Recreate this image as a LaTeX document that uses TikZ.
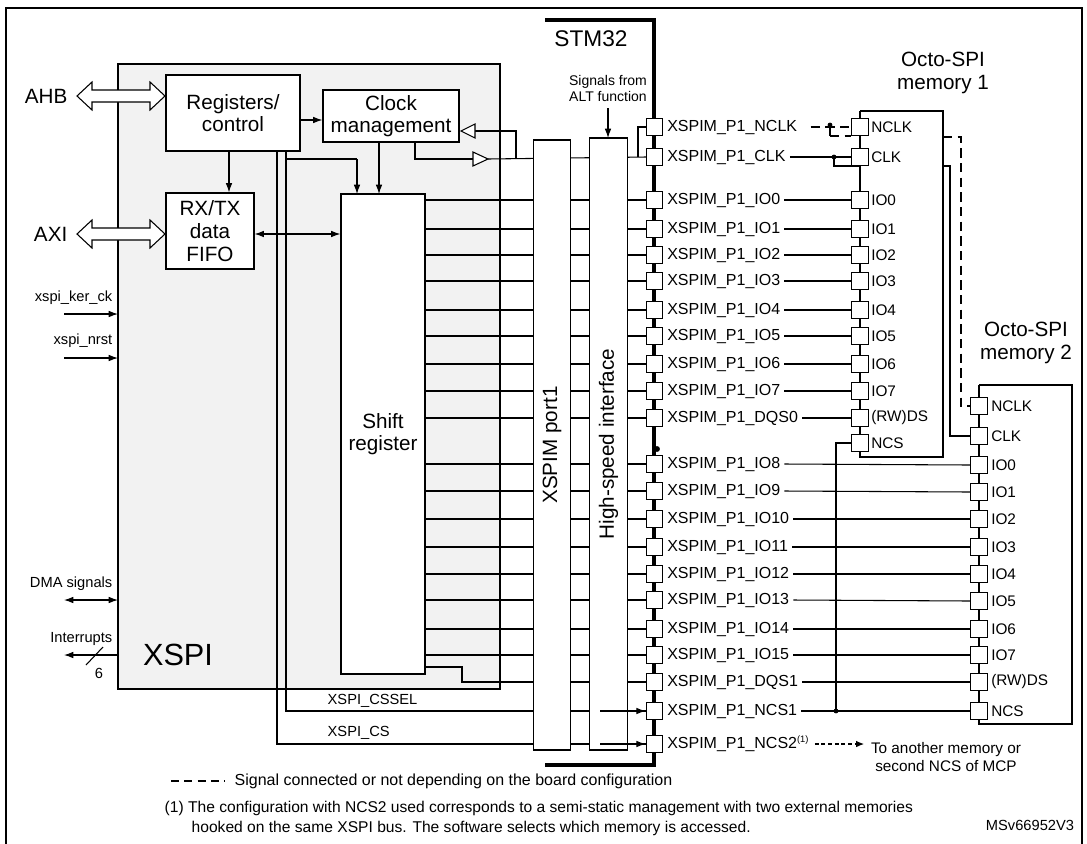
\documentclass[tikz,border=0pt]{standalone}
\usepackage{fontspec}
\setmainfont{Liberation Sans}
\usetikzlibrary{arrows.meta}
\begin{document}
\begin{tikzpicture}[x=0.75pt,y=-0.75pt,
  ln/.style={line width=0.8pt},
  box/.style={draw,line width=0.9pt,fill=white,inner sep=0pt},
  pin/.style={draw,line width=0.8pt,fill=white,minimum size=12.5pt,inner sep=0pt},
  plab/.style={anchor=west,inner sep=0pt,font=\fontsize{12}{12}\selectfont},
  mlab/.style={anchor=west,inner sep=0pt,font=\fontsize{11.5}{12}\selectfont},
  big/.style={font=\fontsize{15.5}{17}\selectfont,align=center},
  sm/.style={font=\fontsize{11}{12}\selectfont},
  arr/.style={ln,-{Latex[length=7pt,width=5pt]}},
  darr/.style={ln,{Latex[length=7pt,width=5pt]}-{Latex[length=7pt,width=5pt]}}]
\useasboundingbox (0,0) rectangle (1087,843);
\draw[line width=1pt] (6,850) -- (6,8) -- (1082,8) -- (1082,850);
% XSPI gray box
\draw[ln,fill=black!5] (118,64) rectangle (500,689);
\node[font=\fontsize{23}{24}\selectfont] (xspi) at (178,655) {XSPI};
% lines from registers
\coordinate (v1) at (277,151); \coordinate (v2) at (286,151);
\draw[ln] (v1) -- (277,744) -- (646,744);
\draw[ln] (v2) -- (286,711) -- (646,711);
\draw[ln] (286,159) -- (357,159);
\draw[arr] (357,159) -- (357,194);
\node[font=\fontsize{11}{12}\selectfont,anchor=west] (cssel) at (323,701) {XSPI\_CSSEL};
\node[font=\fontsize{11}{12}\selectfont,anchor=west] (cs) at (323,733) {XSPI\_CS};
% rows
\def\rowsA{200,229,255,281,310,336,364,391,418,464,491,519,547,574,600,629,655}
\foreach \y in \rowsA {\draw[ln] (425,\y) -- (646,\y);}
\draw[ln] (425,667) -- (462,667) -- (462,682) -- (646,682);
\draw[ln] (415,142) -- (415,159) -- (473,159);
\draw[ln] (488,159) -- (646,157);
\draw[ln] (638,157) -- (638,127) -- (646,127);
\draw[ln] (516,159) -- (516,131) -- (475,131);
% buffers
\draw[ln,fill=white] (461,131) -- (475,124) -- (475,138) -- cycle;
\draw[ln,fill=white] (488,159) -- (473,152) -- (473,166) -- cycle;
% boxes
\node[box,minimum width=100.5pt,minimum height=57pt,big] (reg) at (233,113) {Registers/\\control};
\node[box,minimum width=102pt,minimum height=39pt,big] (clk) at (391,116) {Clock\\management};
\node[box,minimum width=66pt,minimum height=57pt,big] (fifo) at (210,231) {RX/TX\\data\\FIFO};
\node[box,minimum width=63pt,minimum height=360pt,big] (shift) at (383,434) {Shift\\register};
\node[box,minimum width=28pt,minimum height=457.5pt] (port) at (552,445) {};
\node[rotate=90,big] at (port) {XSPIM port1};
\node[box,minimum width=28pt,minimum height=459pt] (hs) at (608.5,444) {};
\node[rotate=90,big] at (hs) {High-speed interface};
\draw[arr] (reg.east |- 0,120) -- (clk.west |- 0,120);
\draw[arr] (229,151) -- (fifo.north -| 229,0);
\draw[arr] (379,142) -- (379,194);
\draw[darr] (fifo.east |- 0,234) -- (shift.west |- 0,234);
% hollow arrows
\foreach \y/\t in {96/AHB,234/AXI}{
  \draw[ln,fill=white] (77,\y) -- (92,\y-14) -- (92,\y-6) -- (150,\y-6) -- (150,\y-14) -- (165,\y) -- (150,\y+14) -- (150,\y+6) -- (92,\y+6) -- (92,\y+14) -- cycle;
  \node[big,anchor=east] at (72,\y) {\t};}
% left signals
\node[sm,anchor=south east] (ker) at (117,309) {xspi\_ker\_ck};
\draw[arr] (64,314) -- (118,314);
\node[sm,anchor=south east] (nrst) at (117,352) {xspi\_nrst};
\draw[arr] (64,358) -- (118,358);
\node[sm,anchor=south east] (dma) at (117,595) {DMA signals};
\draw[darr] (64,600) -- (118,600);
\node[sm,anchor=south east] (irq) at (117,650) {Interrupts};
\draw[arr] (118,655) -- (64,655);
\draw[ln] (86,665) -- (103,647);
\node[sm] at (99,673) {6};
% STM32
\draw[line width=3pt] (545,20) -- (654,20) -- (654,765) -- (545,765);
\node[font=\fontsize{17}{18}\selectfont] (stm) at (591,39) {STM32};
\node[font=\fontsize{10.5}{12}\selectfont,align=center] (alt) at (608,88) {Signals from\\ALT function};
\draw[arr] (608,108) -- (608,138);
\fill (657,449) circle (2.2pt);
% pins
\foreach \y/\n/\t in {127/NCLK/XSPIM\_P1\_NCLK,157/CLK/XSPIM\_P1\_CLK,200/IOa/XSPIM\_P1\_IO0,229/IOb/XSPIM\_P1\_IO1,255/IOc/XSPIM\_P1\_IO2,281/IOd/XSPIM\_P1\_IO3,310/IOe/XSPIM\_P1\_IO4,336/IOf/XSPIM\_P1\_IO5,364/IOg/XSPIM\_P1\_IO6,391/IOh/XSPIM\_P1\_IO7,418/DQSa/XSPIM\_P1\_DQS0,464/IOi/XSPIM\_P1\_IO8,491/IOj/XSPIM\_P1\_IO9,519/IOk/XSPIM\_P1\_IO10,547/IOl/XSPIM\_P1\_IO11,574/IOm/XSPIM\_P1\_IO12,600/IOn/XSPIM\_P1\_IO13,629/IOo/XSPIM\_P1\_IO14,655/IOp/XSPIM\_P1\_IO15,682/DQSb/XSPIM\_P1\_DQS1,711/NCSa/XSPIM\_P1\_NCS1,744/NCSb/XSPIM\_P1\_NCS2\textsuperscript{\fontsize{7}{7}\selectfont(1)}}{
  \node[pin] (p\n) at (654.5,\y) {};
  \node[plab] (l\n) at (667,\y) {\t};}
\draw[arr] (600,711) -- (pNCSa.west);
\draw[arr] (600,744) -- (pNCSb.west);
% memory 1
\draw[ln] (860,111) -- (943,111) -- (943,457) -- (860,457) -- (860,111);
\node[big] at (943,73) {Octo-SPI\\memory 1};
\foreach \y/\n/\t in {127/NCLK/NCLK,157/CLK/CLK,200/IOa/IO0,229/IOb/IO1,255/IOc/IO2,281/IOd/IO3,310/IOe/IO4,336/IOf/IO5,364/IOg/IO6,391/IOh/IO7,418/DQSa/(RW)DS,443/NCS/NCS}{
  \node[pin] (m\n) at (860,\y) {};
  \node[mlab] at (871,\y) {\t};}
\foreach \n in {IOa,IOb,IOc,IOd,IOe,IOf,IOg,IOh,DQSa}{\draw[ln] ([xshift=3pt]l\n.east) -- (m\n.west);}
\draw[ln,dash pattern=on 7pt off 4pt] ([xshift=10pt]lNCLK.east) -- (mNCLK.west);
\fill (830,125) circle (1.8pt);
\draw[ln] (830,125) -- (830,136);
\draw[ln,dash pattern=on 7pt off 4pt] (830,136) -- (851,136);
\draw[ln] ([xshift=3pt]lCLK.east) -- (mCLK.west);
\fill (834,157) circle (1.8pt);
\draw[ln] (834,157) -- (834,166) -- (860,166);
% memory 2
\draw[ln] (979,385) -- (1072,385) -- (1072,724) -- (979,724) -- (979,385);
\node[big] at (1026,343) {Octo-SPI\\memory 2};
\foreach \y/\n/\t in {406/NCLK/NCLK,436/CLK/CLK,465/IOi/IO0,492/IOj/IO1,519/IOk/IO2,547/IOl/IO3,574/IOm/IO4,601/IOn/IO5,629/IOo/IO6,655/IOp/IO7,682/DQSb/(RW)DS,711/NCSa/NCS}{
  \node[pin] (n\n) at (979,\y) {};
  \node[mlab] at (991,\y) {\t};}
\foreach \n in {IOi,IOj,IOk,IOl,IOm,IOn,IOo,IOp,DQSb,NCSa}{\draw[ln] ([xshift=3pt]l\n.east) -- (n\n.west);}
\draw[ln] (mNCS.west) -- (836,443) -- (836,711);
\fill (836,711) circle (1.8pt);
\draw[ln] (943,166) -- (950,166) -- (950,436) -- (nCLK.west);
\draw[ln,dash pattern=on 7pt off 4pt] (943,137) -- (961,137) -- (961,406) -- (nNCLK.west);
% NCS2
\draw[ln,dash pattern=on 3pt off 2pt,-{Latex[length=6pt,width=5pt]}] ([xshift=4pt]lNCSb.east) -- (864,744);
\node[font=\fontsize{11.5}{13}\selectfont,align=center] (oth) at (946,757) {To another memory or\\second NCS of MCP};
% legend
\draw[ln,dash pattern=on 6pt off 4pt] (171,781) -- (225,781);
\node[font=\fontsize{12}{13}\selectfont,anchor=west] (leg) at (230,781) {Signal connected or not depending on the board configuration};
\node[font=\fontsize{11.7}{12}\selectfont,anchor=west] (fn1) at (160,808) {(1) The configuration with NCS2 used corresponds to a semi-static management with two external memories};
\node[font=\fontsize{11.7}{12}\selectfont,anchor=west] (fn2) at (187,828) {hooked on the same XSPI bus. The software selects which memory is accessed.};
\node[font=\fontsize{11}{12}\selectfont] (ms) at (1030,825) {MSv66952V3};
\end{tikzpicture}
\end{document}
